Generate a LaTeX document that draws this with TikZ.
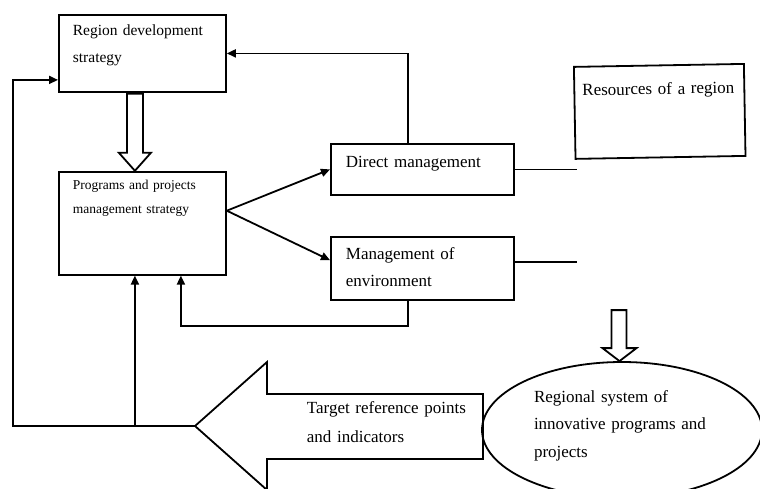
\documentclass[tikz,border=0pt]{standalone}
\usepackage{fontspec}
\setmainfont{Liberation Serif}
\usetikzlibrary{arrows.meta,shapes,positioning,calc}

\begin{document}
\begin{tikzpicture}[x=1pt,y=-1pt,line width=1.8pt,>={Triangle[length=9pt,width=8pt]},
		box/.style={draw,align=left,inner ysep=0pt,anchor=north west,font=\fontsize{17pt}{27pt}\selectfont},
		hollow/.style={draw,fill=white,line join=miter}]
		\useasboundingbox (0,0) rectangle (760,488);
		\node[box,text width=139pt,inner xsep=14pt,text height=21pt,text depth=56pt,font=\fontsize{15.5pt}{27pt}\selectfont] (region) at (58,14) {Region development\\strategy};
		\node[box,below=78pt of region.south west,anchor=north west,text width=139pt,inner xsep=14pt,text height=18pt,text depth=85pt,font=\fontsize{13.5pt}{24pt}\selectfont] (prog) {Programs and projects\\management strategy};
		\node[box,text width=153pt,inner xsep=15pt,text height=24pt,text depth=27pt] (direct) at (330,143) {Direct management};
		\node[box,below=40pt of direct.south west,anchor=north west,text width=153pt,inner xsep=15pt,text height=23pt,text depth=40pt] (env) {Management of\\environment};
		\node[box,rotate=1,text width=154pt,inner xsep=8pt,text height=29pt,text depth=63pt] (res) at (573,66) {Resources of a region};
		\coordinate (tip) at (195,426);
		\draw[hollow] (tip) -- ++(72,-64) -- ++(0,32) -- ++(216,0) -- ++(0,65) -- ++(-216,0) -- ++(0,31) -- cycle;
		\node[align=left,text width=172pt,inner sep=0pt,anchor=base west,font=\fontsize{17pt}{29pt}\selectfont] (tgt) at (306,413) {Target reference points\\and indicators};
		\node[draw,ellipse,inner sep=0pt,minimum width=280pt,minimum height=136pt,text width=176pt,align=left,text height=12pt,text depth=68pt,font=\fontsize{17pt}{27.5pt}\selectfont] (sys) at (622,430) {Regional system of\\innovative programs and\\projects};
		\draw[hollow] ([xshift=-7.5pt]prog.north) -- ++(-16,-18) -- ++(8,0) -- ++(0,-59) -- ++(16,0) -- ++(0,59) -- ++(8,0) -- cycle;
		\draw[hollow] ([xshift=-2.5pt]sys.north) -- ++(-17,-13) -- ++(9,0) -- ++(0,-38) -- ++(15,0) -- ++(0,38) -- ++(10,0) -- cycle;
		\coordinate (fork) at ([yshift=12.5pt]prog.east);
		\coordinate (up1) at ([xshift=-7.5pt]prog.south);
		\coordinate (up2) at ([xshift=38.5pt]prog.south);
		\draw[->] (fork) -- (direct.west);
		\draw[->] (fork) -- ([yshift=8pt]env.west);
		\draw[->] ([xshift=-14.5pt]direct.north) |- (region.east);
		\draw[->] ([xshift=-14.5pt]env.south) -- ++(0,25) -| (up2);
		\draw (direct.east) -- ++(62,0);
		\draw ([yshift=6.5pt]env.east) -- ++(62,0);
		\draw[->] (tip) -- ++(-182,0) |- ([yshift=-26.5pt]region.west);
		\draw[->] (up1 |- tip) -- (up1);
\end{tikzpicture}
\end{document}
